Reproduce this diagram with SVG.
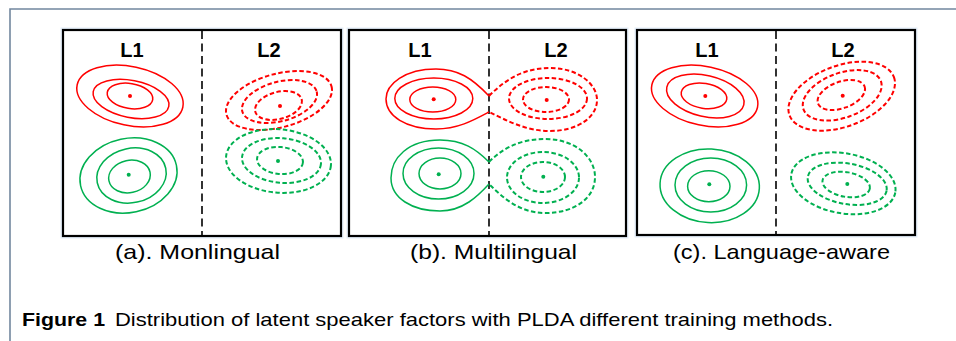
<svg xmlns="http://www.w3.org/2000/svg" width="956" height="341" viewBox="0 0 956 341">
  <style>
    .frame { fill: none; stroke: #72879e; stroke-width: 1.6; }
    .panel { fill: #ffffff; stroke: #000000; stroke-width: 2.2; }
    .glow { fill: none; stroke: #e3edf8; stroke-width: 5; }
    .divider { stroke: #000000; stroke-width: 1.6; stroke-dasharray: 8 4.5; fill: none; }
    .lang { font-family: "Liberation Sans", Arial, sans-serif; font-weight: bold; font-size: 20px; fill: #000; text-anchor: middle; }
    .red { fill: none; stroke: #ff0000; stroke-width: 1.5; }
    .green { fill: none; stroke: #00b050; stroke-width: 1.5; }
    .dash { stroke-width: 2; stroke-dasharray: 4.5 2.5; }
    .rdot { fill: #ff0000; }
    .gdot { fill: #00b050; }
    .sub { font-family: "Liberation Sans", Arial, sans-serif; font-size: 21px; fill: #000; }
    .cap { font-family: "Liberation Sans", Arial, sans-serif; font-size: 19px; fill: #000; }
  </style>

  <!-- page frame -->
  <path class="frame" d="M10,341 V9 H956"/>

  <!-- (a) monolingual -->
  <g id="panel-a">
    <rect class="glow" x="63" y="30" width="278" height="206"/>
    <rect class="panel" x="63" y="30" width="278" height="206"/>
    <line class="divider" x1="202" y1="31" x2="202" y2="235"/>
    <text class="lang" x="132" y="57">L1</text>
    <text class="lang" x="269" y="57">L2</text>
    <g id="a-l1-red">
      <ellipse class="red" cx="130" cy="96" rx="54" ry="29.5" transform="rotate(12 130 96)"/>
      <ellipse class="red" cx="131" cy="99" rx="38.5" ry="18.5" transform="rotate(11 131 99)"/>
      <ellipse class="red" cx="130" cy="96" rx="23" ry="12.5" transform="rotate(9 130 96)"/>
      <circle class="rdot" cx="130" cy="96" r="2"/>
    </g>
    <g id="a-l1-green">
      <ellipse class="green" cx="128.5" cy="175.5" rx="49" ry="37" transform="rotate(-12 128.5 175.5)"/>
      <ellipse class="green" cx="131.5" cy="175.5" rx="35" ry="27.2" transform="rotate(-12 131.5 175.5)"/>
      <ellipse class="green" cx="129.5" cy="176.5" rx="21" ry="16.2" transform="rotate(-12 129.5 176.5)"/>
      <circle class="gdot" cx="128.7" cy="174.7" r="2"/>
    </g>
    <g id="a-l2-red">
      <ellipse class="red dash" cx="279" cy="100.5" rx="54.4" ry="26.8" transform="rotate(-15 279 100.5)"/>
      <ellipse class="red dash" cx="279.5" cy="101.5" rx="38.5" ry="19.7" transform="rotate(-15 279.5 101.5)"/>
      <ellipse class="red dash" cx="278.5" cy="105.5" rx="24" ry="13.5" transform="rotate(-15 278.5 105.5)"/>
      <circle class="rdot" cx="280" cy="106" r="2"/>
    </g>
    <g id="a-l2-green">
      <ellipse class="green dash" cx="278.5" cy="161" rx="52.6" ry="31.7" transform="rotate(5 278.5 161)"/>
      <ellipse class="green dash" cx="281.5" cy="160.5" rx="39.6" ry="22.3" transform="rotate(5 281.5 160.5)"/>
      <ellipse class="green dash" cx="280" cy="160.5" rx="23" ry="13.5" transform="rotate(5 280 160.5)"/>
      <circle class="gdot" cx="278" cy="161" r="2"/>
    </g>
    <text class="sub" x="115" y="259" textLength="165" lengthAdjust="spacingAndGlyphs">(a).  Monlingual</text>
  </g>

  <!-- (b) multilingual -->
  <g id="panel-b">
    <rect class="glow" x="349" y="30" width="277" height="206"/>
    <rect class="panel" x="349" y="30" width="277" height="206"/>
    <line class="divider" x1="489" y1="31" x2="489" y2="235"/>
    <text class="lang" x="420" y="57">L1</text>
    <text class="lang" x="556" y="57">L2</text>
    <g id="b-l1-red">
      <path class="red" d="M489,96 C472,78 458,69 436,69 C405,69 386,84 386,99 C386,116 406,129 436,129 C458,129 474,120 489,112"/>
      <ellipse class="red" cx="433.8" cy="98.5" rx="39" ry="20.5"/>
      <ellipse class="red" cx="432.8" cy="99.5" rx="23" ry="12.5"/>
      <circle class="rdot" cx="433.7" cy="99.3" r="2"/>
    </g>
    <g id="b-l2-red">
      <path class="red dash" d="M489,96 C507,78 525,68 550,68 C578,68 597,84 597,100 C597,117 578,131 550,131 C525,131 506,120 489,112"/>
      <ellipse class="red dash" cx="548" cy="98.5" rx="39" ry="20.5"/>
      <ellipse class="red dash" cx="546" cy="99.5" rx="23" ry="12.5"/>
      <circle class="rdot" cx="546.7" cy="100" r="2"/>
    </g>
    <g id="b-l1-green">
      <path class="green" d="M489,162 C476,149 463,140 440,140 C408,140 391,158 391,178 C391,198 412,211 440,211 C463,211 478,196 489,184"/>
      <ellipse class="green" cx="438.5" cy="173.5" rx="35.5" ry="25.5"/>
      <ellipse class="green" cx="440" cy="173.5" rx="21" ry="15.5"/>
      <circle class="gdot" cx="438.7" cy="174.3" r="2"/>
    </g>
    <g id="b-l2-green">
      <path class="green dash" d="M489,162 C503,148 520,139 545,139 C575,139 595,157 595,177 C595,198 575,213 545,213 C520,213 503,198 489,184"/>
      <ellipse class="green dash" cx="543" cy="177.5" rx="36" ry="25.5"/>
      <ellipse class="green dash" cx="543" cy="177" rx="22" ry="15"/>
      <circle class="gdot" cx="543.3" cy="176.7" r="2"/>
    </g>
    <text class="sub" x="410" y="259" textLength="167" lengthAdjust="spacingAndGlyphs">(b).  Multilingual</text>
  </g>

  <!-- (c) language-aware -->
  <g id="panel-c">
    <rect class="glow" x="637" y="30" width="278" height="205"/>
    <rect class="panel" x="637" y="30" width="278" height="205"/>
    <line class="divider" x1="776" y1="31" x2="776" y2="234"/>
    <text class="lang" x="707" y="57">L1</text>
    <text class="lang" x="843" y="57">L2</text>
    <g id="c-l1-red">
      <ellipse class="red" cx="704.7" cy="96" rx="54" ry="29.5" transform="rotate(12 704.7 96)"/>
      <ellipse class="red" cx="705.3" cy="96" rx="39.5" ry="20.5" transform="rotate(13 705.3 96)"/>
      <ellipse class="red" cx="704" cy="95.8" rx="23" ry="12.5" transform="rotate(9 704 95.8)"/>
      <circle class="rdot" cx="705.3" cy="96" r="2"/>
    </g>
    <g id="c-l1-green">
      <ellipse class="green" cx="709.7" cy="185.8" rx="49.7" ry="36.8" transform="rotate(3 709.7 185.8)"/>
      <ellipse class="green" cx="710.8" cy="185" rx="35.8" ry="27"/>
      <ellipse class="green" cx="708.8" cy="186.2" rx="21.2" ry="15.5"/>
      <circle class="gdot" cx="709.3" cy="184.3" r="2"/>
    </g>
    <g id="c-l2-red">
      <ellipse class="red dash" cx="841.7" cy="96.2" rx="55.6" ry="30.6" transform="rotate(-20 841.7 96.2)"/>
      <ellipse class="red dash" cx="842.2" cy="95.3" rx="41.2" ry="22.3" transform="rotate(-20 842.2 95.3)"/>
      <ellipse class="red dash" cx="841.3" cy="95" rx="24.8" ry="13.2" transform="rotate(-20 841.3 95)"/>
      <circle class="rdot" cx="842.7" cy="95.7" r="2"/>
    </g>
    <g id="c-l2-green">
      <ellipse class="green dash" cx="843.3" cy="183.3" rx="52.8" ry="30" transform="rotate(10 843.3 183.3)"/>
      <ellipse class="green dash" cx="847.2" cy="183.8" rx="40" ry="20.3" transform="rotate(10 847.2 183.8)"/>
      <ellipse class="green dash" cx="846.2" cy="184.5" rx="24" ry="12.3" transform="rotate(10 846.2 184.5)"/>
      <circle class="gdot" cx="847.3" cy="184" r="2"/>
    </g>
    <text class="sub" x="673" y="259" textLength="217" lengthAdjust="spacingAndGlyphs">(c).  Language-aware</text>
  </g>

  <!-- figure caption -->
  <g id="caption">
    <text class="cap" x="22" y="326" font-weight="bold" textLength="83" lengthAdjust="spacingAndGlyphs">Figure 1</text>
    <text class="cap" x="115" y="326" textLength="718" lengthAdjust="spacingAndGlyphs">Distribution of latent speaker factors with PLDA different training methods.</text>
  </g>
</svg>
